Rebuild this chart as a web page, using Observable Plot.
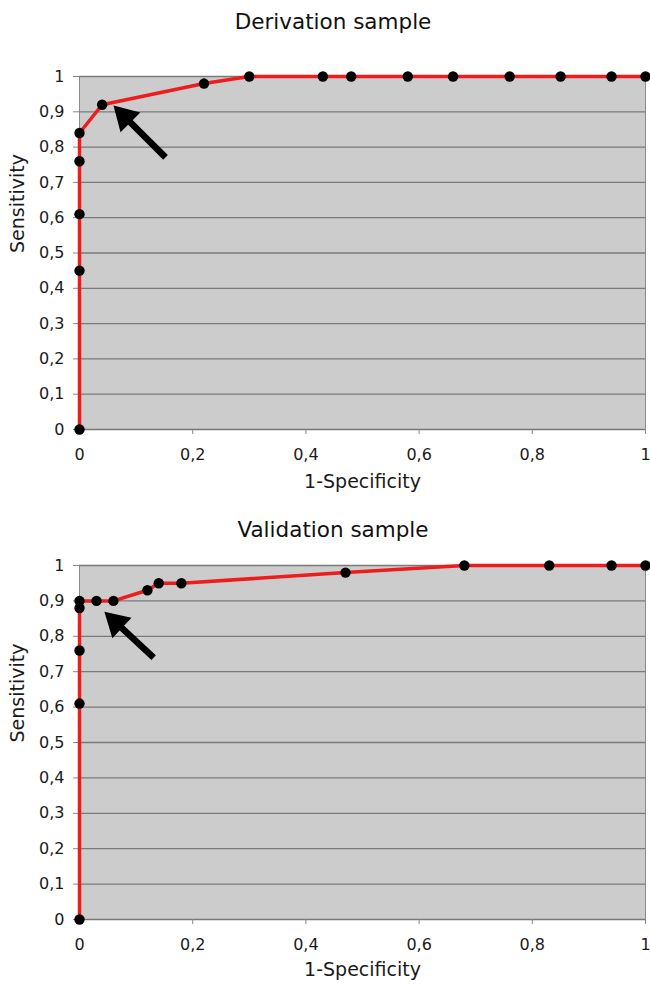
<!DOCTYPE html>
<html><head><meta charset="utf-8">
<script src="https://cdn.jsdelivr.net/npm/d3@7"></script>
<script src="https://cdn.jsdelivr.net/npm/@observablehq/plot@0.6"></script>
<style>
body{margin:0;background:#fff;font-family:"DejaVu Sans",Verdana,sans-serif;width:650px;}
.title{text-align:center;font-size:21.5px;color:#111;height:44px;line-height:44px;padding-left:16px;}
svg{display:block;}
</style></head><body>
<div id="c"></div>
<script>
// Derivation sample (ROC points)
const derivFPR = [0, 0, 0, 0, 0, 0.04, 0.22, 0.30, 0.43, 0.48, 0.58, 0.66, 0.76, 0.85, 0.94, 1];
const derivTPR = [0, 0.45, 0.61, 0.76, 0.84, 0.92, 0.98, 1, 1, 1, 1, 1, 1, 1, 1, 1];
// Validation sample (ROC points)
const validFPR = [0, 0, 0, 0, 0, 0.03, 0.06, 0.12, 0.14, 0.18, 0.47, 0.68, 0.83, 0.94, 1];
const validTPR = [0, 0.61, 0.76, 0.88, 0.90, 0.90, 0.90, 0.93, 0.95, 0.95, 0.98, 1, 1, 1, 1];
// arrows pointing at the chosen cut-off: [x, y] of tail and head
const derivArrowTail = [0.152, 0.771];
const derivArrowHead = [0.0675, 0.906];
const validArrowTail = [0.131, 0.740];
const validArrowHead = [0.0517, 0.858];
const xTicks = [0, 0.2, 0.4, 0.6, 0.8, 1];
const yTicks = [0, 0.1, 0.2, 0.3, 0.4, 0.5, 0.6, 0.7, 0.8, 0.9, 1];
const titles = ["Derivation sample", "Validation sample"];
const xLabel = "1-Specificity";
const yLabel = "Sensitivity";

const fmt = d => (d === 0 || d === 1) ? String(d) : d.toFixed(1).replace(".", ",");

// filled arrow-head symbol: tip just beyond the anchor point, pointing up
const arrowHead = {
  draw(context) {
    context.moveTo(0, -6);
    context.lineTo(14, 18);
    context.lineTo(-14, 18);
    context.closePath();
  }
};

function roc(fpr, tpr, tail, head, o) {
  const data = fpr.map((x, i) => ({x, y: tpr[i]}));
  const arrow = [{x1: tail[0], y1: tail[1], x2: head[0], y2: head[1]}];
  return Plot.plot({
    width: 650, height: o.height,
    marginLeft: 79, marginRight: 5, marginTop: o.mt, marginBottom: o.mb,
    style: {fontFamily: "DejaVu Sans, sans-serif", fontSize: "16px", color: "#1a1a1a", background: "transparent", overflow: "visible"},
    x: {domain: [0, 1]},
    y: {domain: [0, 1]},
    marks: [
      Plot.frame({fill: "#cccccc", stroke: "#8c8c8c"}),
      Plot.ruleY(yTicks.filter(d => d > 0), {stroke: "#7a7a7a", strokeWidth: 1.3}),
      Plot.ruleY([0], {stroke: "#777", strokeWidth: 1.5}),
      Plot.axisX({ticks: xTicks, tickFormat: fmt, tickSize: 5, tickPadding: 14, stroke: "#888", fontSize: 16, label: null}),
      Plot.axisY({ticks: yTicks, tickFormat: fmt, tickSize: 6, tickPadding: 9, stroke: "#888", fontSize: 16, label: null}),
      Plot.text([xLabel], {frameAnchor: "bottom", dy: o.xlab, fontSize: 19, fill: "#1a1a1a"}),
      Plot.text([yLabel], {frameAnchor: "left", dx: -62, rotate: -90, fontSize: 19, fill: "#1a1a1a"}),
      Plot.line(data, {x: "x", y: "y", stroke: "#ee1c1c", strokeWidth: 3.5}),
      Plot.dot(data, {x: "x", y: "y", r: 5.2, fill: "#000", stroke: "none"}),
      Plot.link(arrow, {x1: "x1", y1: "y1", x2: "x2", y2: "y2", stroke: "#000", strokeWidth: 6.5, strokeLinecap: "butt"}),
      Plot.dot(arrow, {x: "x2", y: "y2", symbol: arrowHead, fill: "#000", stroke: "none", rotate: o.rot})
    ]
  });
}

const c = document.getElementById("c");
const t1 = document.createElement("div"); t1.className = "title"; t1.textContent = titles[0]; c.appendChild(t1);
c.appendChild(roc(derivFPR, derivTPR, derivArrowTail, derivArrowHead, {height: 464, mt: 32, mb: 79, xlab: 58, rot: -45}));
const t2 = document.createElement("div"); t2.className = "title"; t2.textContent = titles[1]; c.appendChild(t2);
c.appendChild(roc(validFPR, validTPR, validArrowTail, validArrowHead, {height: 433, mt: 13, mb: 66, xlab: 56, rot: -47}));
</script>
</body></html>
